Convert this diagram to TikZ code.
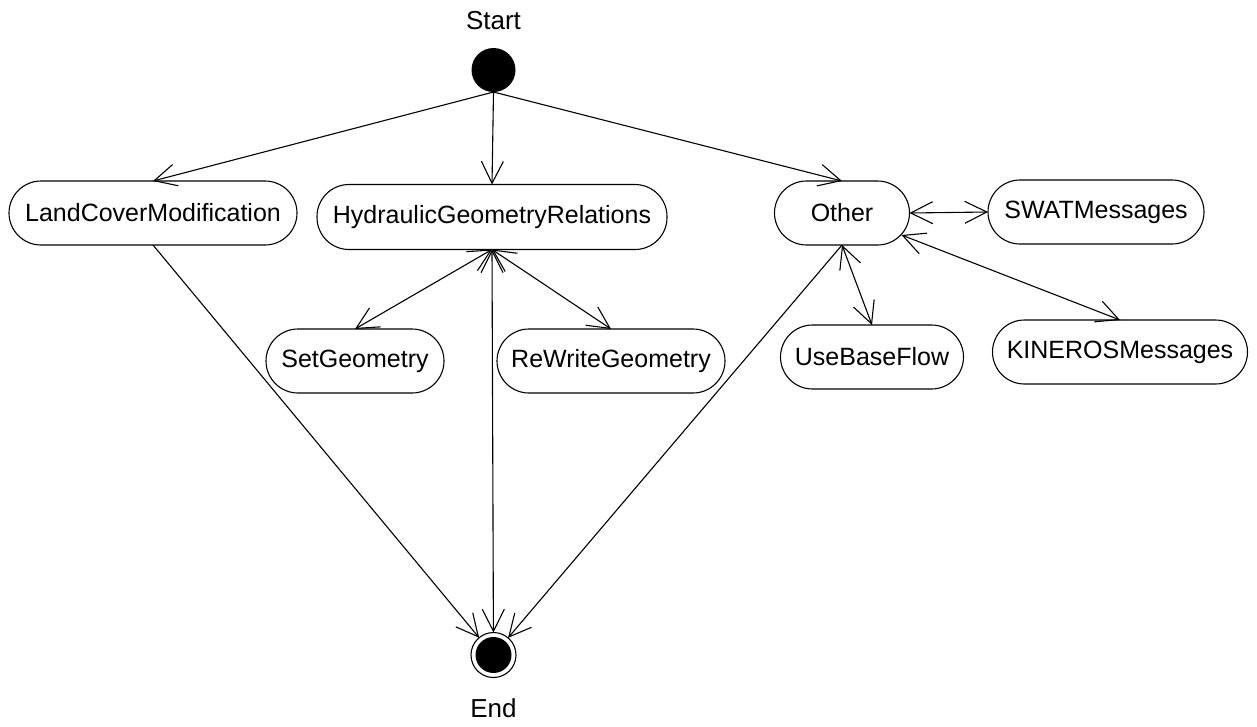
\documentclass[tikz,border=0pt]{standalone}
\usepackage{fontspec}
\setmainfont{Liberation Sans}
\usetikzlibrary{arrows.meta}
\begin{document}
\begin{tikzpicture}[x=1pt,y=-1pt,
  every node/.style={inner sep=0pt,outer sep=0pt},
  act/.style={draw,line width=1.1pt,rounded corners=32pt,minimum height=64pt,
    font=\fontsize{25}{30}\selectfont},
  lbl/.style={anchor=base,font=\fontsize{26}{31}\selectfont},
  conn/.style={line width=1.1pt,>={Straight Barb[length=22pt,width=22pt]}},
]
\useasboundingbox (0,0) rectangle (1257,726);
% states
\node[circle,fill=black,minimum size=44pt] (start) at (493.5,70) {};
\node[lbl] (startlbl) at (493.5,29) {Start};
\node[circle,draw,line width=1.1pt,minimum size=45pt] (end) at (493.5,655) {};
\fill (end.center) circle (18pt);
\node[lbl] (endlbl) at (493.5,717) {End};
% activities
\node[act,minimum width=288pt] (lcm) at (153,213) {LandCoverModification};
\node[act,minimum width=350pt,minimum height=65pt] (hgr) at (492,217) {HydraulicGeometryRelations};
\node[act,minimum width=135pt] (other) at (842,213) {Other};
\node[act,minimum width=216pt] (swat) at (1096,212) {SWATMessages};
\node[act,minimum width=178pt] (setg) at (355,361) {SetGeometry};
\node[act,minimum width=228pt] (rwg) at (611,361) {ReWriteGeometry};
\node[act,minimum width=183pt] (ubf) at (872,357) {UseBaseFlow};
\node[act,minimum width=255pt] (kin) at (1120,352) {KINEROSMessages};
% connectors
\draw[conn,->] (start.south) -- (lcm.north);
\draw[conn,->] (start.south) -- (hgr.north);
\draw[conn,->] (start.south) -- (other.north);
\draw[conn,->] (lcm.south) -- (end);
\draw[conn,<->] (hgr.south) -- (end);
\draw[conn,<->] (hgr.south) -- (setg.north);
\draw[conn,<->] (hgr.south) -- (rwg.north);
\draw[conn,->] (other.south) -- (end);
\draw[conn,<->] (other.south) -- (ubf.north);
\draw[conn,<->] (other.east) -- (swat.west);
\draw[conn,<->] ([xshift=-8pt,yshift=10pt]other.south east) -- (kin.north);
\end{tikzpicture}
\end{document}
